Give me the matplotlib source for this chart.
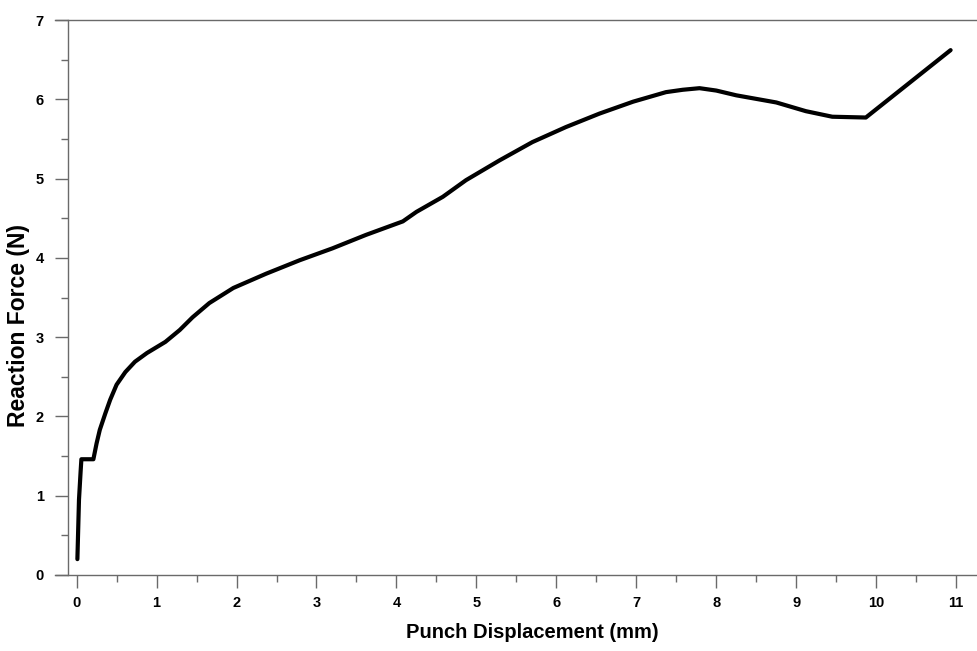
import numpy as np
import matplotlib.pyplot as plt
from matplotlib.ticker import MultipleLocator

plt.rcParams['font.family'] = ['Liberation Sans', 'DejaVu Sans']

# punch displacement (mm) and reaction force (N)
desplazamiento = [0.01, 0.03, 0.05, 0.06, 0.21, 0.25, 0.29, 0.36, 0.42, 0.50,
                  0.61, 0.73, 0.88, 1.11, 1.29, 1.45, 1.66, 1.96, 2.37, 2.79,
                  3.20, 3.62, 4.08, 4.25, 4.58, 4.87, 5.29, 5.70, 6.12, 6.54,
                  6.96, 7.37, 7.58, 7.79, 8.00, 8.25, 8.75, 9.12, 9.45, 9.87,
                  10.93]
fuerza = [0.20, 0.95, 1.30, 1.46, 1.46, 1.66, 1.83, 2.04, 2.21, 2.40,
          2.56, 2.69, 2.80, 2.94, 3.09, 3.25, 3.43, 3.62, 3.80, 3.97,
          4.12, 4.29, 4.46, 4.58, 4.77, 4.98, 5.23, 5.46, 5.65, 5.82,
          5.97, 6.09, 6.12, 6.14, 6.11, 6.05, 5.96, 5.85, 5.78, 5.77,
          6.62]

gris = '#6a6a6a'

fig = plt.figure(figsize=(9.77, 6.51), dpi=100)
ax = fig.add_axes([55/977, 1 - 575/651, 922/977, 555/651])

ax.plot(desplazamiento, fuerza, color='black', lw=3.0,
        solid_joinstyle='round', solid_capstyle='round')

ax.set_xlim(-0.27, 11.26)
ax.set_ylim(0, 7)

ax.spines['right'].set_visible(False)
ax.spines['left'].set_position(('data', -0.106))
for s in ['left', 'bottom', 'top']:
    ax.spines[s].set_color(gris)
    ax.spines[s].set_linewidth(1.0)

ax.xaxis.set_major_locator(MultipleLocator(1))
ax.xaxis.set_minor_locator(MultipleLocator(0.5))
ax.yaxis.set_major_locator(MultipleLocator(1))
ax.yaxis.set_minor_locator(MultipleLocator(0.5))

ax.tick_params(which='major', direction='out', length=9.4, width=1.0,
               color=gris, labelsize=10.5)
ax.tick_params(which='minor', direction='out', length=4.8, width=1.0,
               color=gris)
ax.tick_params(axis='x', which='major', pad=6.0)
ax.tick_params(axis='y', which='major', pad=8.0)
ax.tick_params(top=False, which='both')

for lab in ax.get_xticklabels() + ax.get_yticklabels():
    lab.set_fontweight('bold')

ax.set_xlabel("Punch Displacement (mm)", fontsize=14.5, fontweight='bold')
ax.set_ylabel("Reaction Force (N)", fontsize=16.5, fontweight='bold')
ax.xaxis.set_label_coords(0.518, -0.087)
ax.yaxis.set_label_coords(-0.027, 0.45)

fig.savefig("out.png", dpi=100)
